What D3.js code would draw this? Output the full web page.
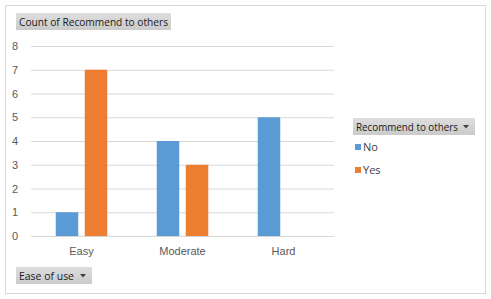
<!DOCTYPE html>
<html>
<head>
<meta charset="utf-8">
<script src="https://cdn.jsdelivr.net/npm/d3@7"></script>
<style>
  html, body { margin: 0; padding: 0; background: #fff; }
  svg { display: block; }
</style>
</head>
<body>
<svg id="chart"></svg>
<script>
// data
var categories = ['Easy', 'Moderate', 'Hard'];
var seriesNames = ['No', 'Yes'];
var noValues = [1, 4, 5];
var yesValues = [7, 3, 0];
var yTicks = [0, 1, 2, 3, 4, 5, 6, 7, 8];
var colors = ['#5b9bd5', '#ed7d31'];

var W = 491, H = 299;
var svg = d3.select('#chart').attr('width', W).attr('height', H);

// outer chart frame
svg.append('rect')
    .attr('x', 5.5).attr('y', 5.5)
    .attr('width', 480).attr('height', 288)
    .attr('fill', '#fff')
    .attr('stroke', '#d9d9d9');

var rows = categories.map(function(c, i) {
    return { cat: c, No: noValues[i], Yes: yesValues[i] };
});

var x0 = d3.scaleBand().domain(categories).range([31, 334]).padding(0);
var x1 = d3.scaleBand().domain(seriesNames).range([0, x0.bandwidth()])
    .paddingInner(0.224).paddingOuter(0.853);
var y = d3.scaleLinear().domain([0, 8]).range([236, 46]);

// gridlines
var yAxis = d3.axisLeft(y).tickValues(yTicks).tickSize(-(334 - 31)).tickPadding(10);
var gy = svg.append('g').attr('transform', 'translate(31,0)').call(yAxis);
gy.select('.domain').remove();
gy.selectAll('.tick line').attr('stroke', '#d9d9d9');
gy.selectAll('.tick text')
    .attr('fill', '#595959')
    .attr('x', -13)
    .style('font-family', '"Liberation Sans", Arial, sans-serif')
    .style('font-size', '11px');

// bars
var groups = svg.selectAll('g.cat').data(rows).enter().append('g')
    .attr('class', 'cat')
    .attr('transform', function(d) { return 'translate(' + x0(d.cat) + ',0)'; });

groups.selectAll('rect')
    .data(function(d) { return seriesNames.map(function(s) { return { key: s, value: d[s] }; }); })
    .enter().append('rect')
    .attr('x', function(d) { return x1(d.key); })
    .attr('width', x1.bandwidth())
    .attr('y', function(d) { return y(d.value); })
    .attr('height', function(d) { return y(0) - y(d.value); })
    .attr('fill', function(d, i) { return colors[i]; });

// category axis
var xAxis = d3.axisBottom(x0).tickSize(0).tickPadding(11);
var gx = svg.append('g').attr('transform', 'translate(0,236)').call(xAxis);
gx.select('.domain').remove();
gx.selectAll('.tick text')
    .attr('fill', '#595959')
    .style('font-family', '"Liberation Sans", Arial, sans-serif')
    .style('font-size', '11px');

// pivot field buttons
var btnFont = '"Open Sans", "Noto Sans", sans-serif';
var defs = svg.append('defs');
var grad = defs.append('linearGradient').attr('id', 'btnfill')
    .attr('x1', 0).attr('y1', 0).attr('x2', 0).attr('y2', 1);
grad.append('stop').attr('offset', 0).attr('stop-color', '#dedede');
grad.append('stop').attr('offset', 1).attr('stop-color', '#cacaca');

function fieldButton(x, yTop, w, h, label, textW, arrow) {
    var g = svg.append('g').attr('transform', 'translate(' + x + ',' + yTop + ')');
    g.append('rect').attr('width', w).attr('height', h).attr('fill', 'url(#btnfill)');
    g.append('text')
        .attr('x', 3).attr('y', h / 2 + 4)
        .attr('fill', '#1a1a1a')
        .attr('textLength', textW)
        .attr('lengthAdjust', 'spacingAndGlyphs')
        .style('font-family', btnFont)
        .style('font-size', '10.5px')
        .text(label);
    if (arrow) {
        var ax = w - 9;
        g.append('path')
            .attr('d', 'M' + (ax - 3) + ',' + (h / 2 - 1.5) + 'h6l-3,3.5z')
            .attr('fill', '#404040');
    }
    return g;
}

fieldButton(16, 13, 155, 17, 'Count of Recommend to others', 149, false);
fieldButton(16, 267, 76, 17, 'Ease of use', 55, true);
fieldButton(353, 118, 122, 17, 'Recommend to others', 102, true);

// legend
var legend = svg.append('g').attr('transform', 'translate(355,144)');
seriesNames.forEach(function(s, i) {
    var row = legend.append('g').attr('transform', 'translate(0,' + (i * 23) + ')');
    row.append('rect').attr('width', 6).attr('height', 6).attr('fill', colors[i]);
    row.append('text')
        .attr('x', 8).attr('y', 7)
        .attr('fill', '#404040')
        .style('font-family', btnFont)
        .style('font-size', '11px')
        .text(s);
});
</script>
</body>
</html>
